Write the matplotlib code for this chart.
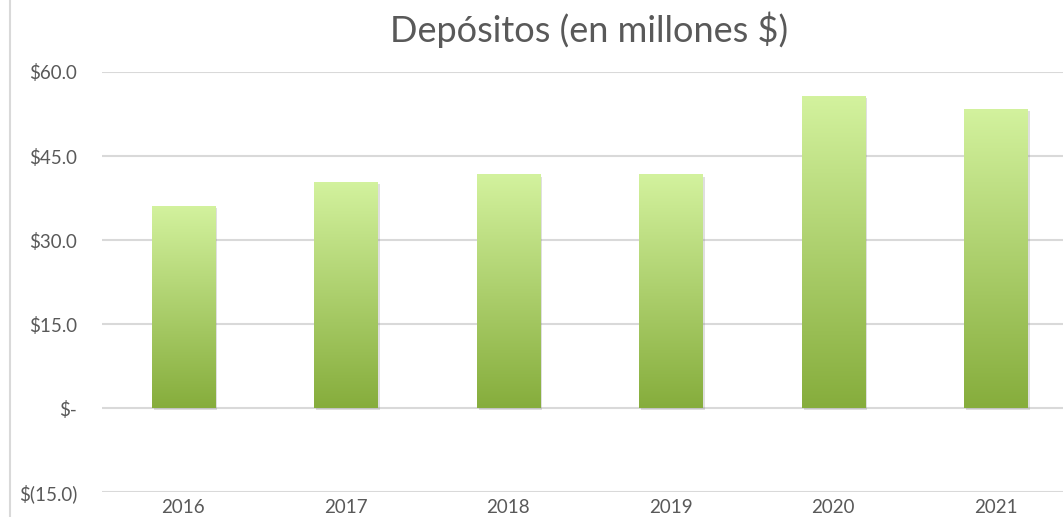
import numpy as np
import matplotlib
matplotlib.use("Agg")
import matplotlib.pyplot as plt
import matplotlib.patheffects as pe
from matplotlib.colors import LinearSegmentedColormap
from matplotlib.lines import Line2D

years = ["2016", "2017", "2018", "2019", "2020", "2021"]
depositos = [36.1, 40.4, 41.7, 41.7, 55.7, 53.4]
y_ticks = [-15, 0, 15, 30, 45, 60]
y_labels = ["$(15.0)", "$-", "$15.0", "$30.0", "$45.0", "$60.0"]

plt.rcParams["font.family"] = ["Lato", "DejaVu Sans"]

fig = plt.figure(figsize=(10.63, 5.17), dpi=100)
# plot area runs past the right edge, like the cropped screenshot
ax = fig.add_axes([102 / 1063, 25 / 517, 975 / 1063, 420 / 517])

x = np.arange(len(years))
bars = ax.bar(x, depositos, width=0.39, color="none", zorder=3,
              path_effects=[pe.SimplePatchShadow(offset=(1.5, -1.5), alpha=0.25, shadow_rgbFace="#808080")])

grad = LinearSegmentedColormap.from_list("g", ["#86ad3c", "#d3f29e"])
img = np.linspace(0, 1, 256).reshape(-1, 1)
for b in bars:
    x0, w, h = b.get_x(), b.get_width(), b.get_height()
    im = ax.imshow(img, cmap=grad, origin="lower", aspect="auto",
                   extent=(x0, x0 + w, 0, h), zorder=4)
    im.set_clip_path(b)

ax.set_xlim(-0.5, len(years) - 0.5)
ax.set_ylim(-15, 60)
ax.set_yticks(y_ticks)
ax.set_yticklabels(y_labels)
ax.set_xticks(x)
ax.set_xticklabels(years)
ax.grid(axis="y", color="#d9d9d9", linewidth=1.5, zorder=0)
ax.set_axisbelow(True)
for s in ax.spines.values():
    s.set_visible(False)
ax.tick_params(axis="both", length=0, labelsize=13.5, colors="#595959")
ax.tick_params(axis="y", pad=18)
ax.tick_params(axis="x", pad=5)

fig.text(589 / 1063, 1 - 30 / 517, "Depósitos (en millones $)", ha="center", va="center",
         fontsize=26, color="#595959")

fig.add_artist(Line2D([10 / 1063, 10 / 1063], [0, 1], color="#d9d9d9", linewidth=1.5))

fig.savefig("out.png", dpi=100)
